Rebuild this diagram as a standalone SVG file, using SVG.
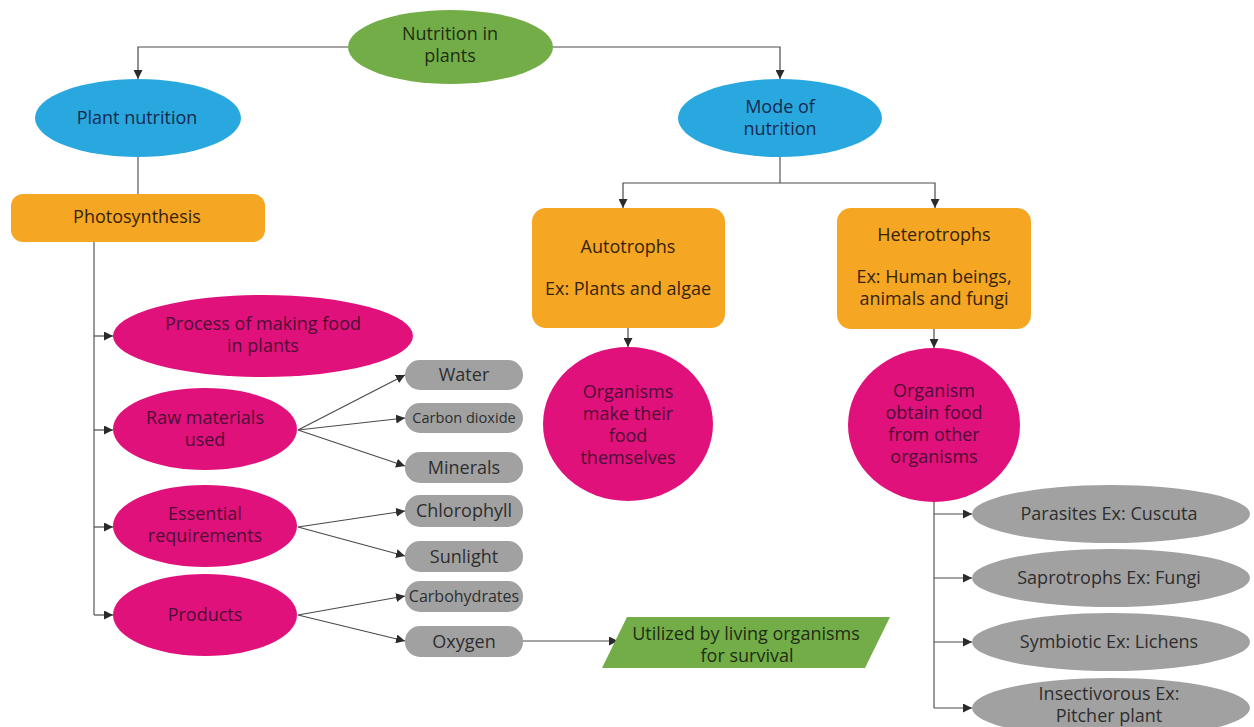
<svg xmlns="http://www.w3.org/2000/svg" width="1254" height="727" viewBox="0 0 1254 727">
<defs>
<marker id="arr" viewBox="0 0 10 10" refX="10" refY="5" markerWidth="9" markerHeight="9" markerUnits="userSpaceOnUse" orient="auto">
<path d="M0,0 L10,5 L0,10 z" fill="#2b2b2b"/>
</marker>
<style>
text{font-family:"Open Sans","Noto Sans","Liberation Sans",sans-serif;font-size:18px;text-anchor:middle}
.ln{fill:none;stroke:#6f6f6f;stroke-width:1.4}
.la{fill:none;stroke:#4a4a4a;stroke-width:1.2;marker-end:url(#arr)}
.green{fill:#72ad48}
.blue{fill:#29a8e0}
.orange{fill:#f5a623}
.pink{fill:#e0117b}
.gray{fill:#a1a1a1}
.tg{fill:#1f2d14}
.tb{fill:#172a4d}
.to{fill:#35230a}
.tp{fill:#4e0d35}
.tgr{fill:#2e2e2e}
</style>
</defs>
<rect width="1254" height="727" fill="#ffffff"/>
<g id="connectors">
<path class="la" d="M348,47 H138 V79"/>
<path class="la" d="M553,47 H780 V79"/>
<path class="ln" d="M138,157 V194"/>
<path class="ln" d="M780,157 V183"/>
<path class="la" d="M780,183 H623 V208"/>
<path class="la" d="M780,183 H935 V208"/>
<path class="ln" d="M94,242 V615"/>
<path class="la" d="M94,336 H113"/>
<path class="la" d="M94,430 H113"/>
<path class="la" d="M94,527 H113"/>
<path class="la" d="M94,615 H113"/>
<path class="la" d="M298,430 L405,375"/>
<path class="la" d="M298,430 L405,418"/>
<path class="la" d="M298,430 L405,466"/>
<path class="la" d="M298,527 L405,511"/>
<path class="la" d="M298,527 L405,556"/>
<path class="la" d="M298,615 L405,596"/>
<path class="la" d="M298,615 L405,641"/>
<path class="la" d="M523,641 H618"/>
<path class="la" d="M628,328 V347"/>
<path class="la" d="M934,329 V348"/>
<path class="ln" d="M934,502 V708"/>
<path class="la" d="M934,514 H972"/>
<path class="la" d="M934,578 H972"/>
<path class="la" d="M934,642 H972"/>
<path class="la" d="M934,708 H972"/>
</g>
<g id="nutrition-in-plants">
<ellipse class="green" cx="450.5" cy="47" rx="102.5" ry="37"/>
<text class="tg" x="450" y="40">Nutrition in<tspan x="450" dy="22">plants</tspan></text>
</g>
<g id="plant-nutrition">
<ellipse class="blue" cx="138" cy="118" rx="103" ry="39"/>
<text class="tb" x="137" y="124">Plant nutrition</text>
</g>
<g id="mode-of-nutrition">
<ellipse class="blue" cx="780" cy="118" rx="102" ry="39"/>
<text class="tb" x="780" y="113">Mode of<tspan x="780" dy="22">nutrition</tspan></text>
</g>
<g id="photosynthesis">
<rect class="orange" x="11" y="194" width="254" height="48" rx="12"/>
<text class="to" x="137" y="223">Photosynthesis</text>
</g>
<g id="autotrophs">
<rect class="orange" x="532" y="208" width="193" height="120" rx="14"/>
<text class="to" x="628" y="253">Autotrophs<tspan x="628" dy="42">Ex: Plants and algae</tspan></text>
</g>
<g id="heterotrophs">
<rect class="orange" x="837" y="208" width="194" height="121" rx="14"/>
<text class="to" x="934" y="241">Heterotrophs<tspan x="934" dy="42">Ex: Human beings,</tspan><tspan x="934" dy="22">animals and fungi</tspan></text>
</g>
<g id="autotrophs-desc">
<ellipse class="pink" cx="628" cy="424" rx="85" ry="77"/>
<text class="tp" x="628" y="397.5">Organisms<tspan x="628" dy="22">make their</tspan><tspan x="628" dy="22">food</tspan><tspan x="628" dy="22">themselves</tspan></text>
</g>
<g id="heterotrophs-desc">
<ellipse class="pink" cx="934" cy="425" rx="86" ry="77"/>
<text class="tp" x="934" y="396.5">Organism<tspan x="934" dy="22">obtain food</tspan><tspan x="934" dy="22">from other</tspan><tspan x="934" dy="22">organisms</tspan></text>
</g>
<g id="process">
<ellipse class="pink" cx="263" cy="336" rx="150" ry="41"/>
<text class="tp" x="263" y="330">Process of making food<tspan x="263" dy="22">in plants</tspan></text>
</g>
<g id="raw-materials">
<ellipse class="pink" cx="205" cy="429" rx="92" ry="41"/>
<text class="tp" x="205" y="424">Raw materials<tspan x="205" dy="22">used</tspan></text>
</g>
<g id="essential">
<ellipse class="pink" cx="205" cy="526" rx="92" ry="41"/>
<text class="tp" x="205" y="520">Essential<tspan x="205" dy="22">requirements</tspan></text>
</g>
<g id="products">
<ellipse class="pink" cx="205" cy="615" rx="92" ry="41"/>
<text class="tp" x="205" y="621">Products</text>
</g>
<g id="water">
<rect class="gray" x="405" y="360" width="118" height="30" rx="15"/>
<text class="tgr" x="464" y="381">Water</text>
</g>
<g id="carbon-dioxide">
<rect class="gray" x="405" y="403" width="118" height="30" rx="15"/>
<text class="tgr" x="464" y="423" style="font-size:14.6px">Carbon dioxide</text>
</g>
<g id="minerals">
<rect class="gray" x="405" y="452" width="118" height="31" rx="15"/>
<text class="tgr" x="464" y="474">Minerals</text>
</g>
<g id="chlorophyll">
<rect class="gray" x="405" y="495" width="118" height="32" rx="15"/>
<text class="tgr" x="464" y="517">Chlorophyll</text>
</g>
<g id="sunlight">
<rect class="gray" x="405" y="541" width="118" height="31" rx="15"/>
<text class="tgr" x="464" y="563">Sunlight</text>
</g>
<g id="carbohydrates">
<rect class="gray" x="405" y="581" width="118" height="31" rx="15"/>
<text class="tgr" x="464" y="602" style="font-size:16px">Carbohydrates</text>
</g>
<g id="oxygen">
<rect class="gray" x="405" y="626" width="118" height="31" rx="15"/>
<text class="tgr" x="464" y="648">Oxygen</text>
</g>
<g id="utilized">
<polygon class="green" points="627,617 890,617 865,668 602,668"/>
<text class="tg" x="746" y="640">Utilized by living organisms<tspan x="747" dy="22">for survival</tspan></text>
</g>
<g id="parasites">
<ellipse class="gray" cx="1111" cy="514" rx="139" ry="29"/>
<text class="tgr" x="1109" y="520">Parasites Ex: Cuscuta</text>
</g>
<g id="saprotrophs">
<ellipse class="gray" cx="1111" cy="578" rx="139" ry="29"/>
<text class="tgr" x="1109" y="584">Saprotrophs Ex: Fungi</text>
</g>
<g id="symbiotic">
<ellipse class="gray" cx="1111" cy="642" rx="139" ry="29"/>
<text class="tgr" x="1109" y="648">Symbiotic Ex: Lichens</text>
</g>
<g id="insectivorous">
<ellipse class="gray" cx="1111" cy="708" rx="139" ry="30"/>
<text class="tgr" x="1109" y="700">Insectivorous Ex:<tspan x="1109" dy="22">Pitcher plant</tspan></text>
</g>
</svg>
